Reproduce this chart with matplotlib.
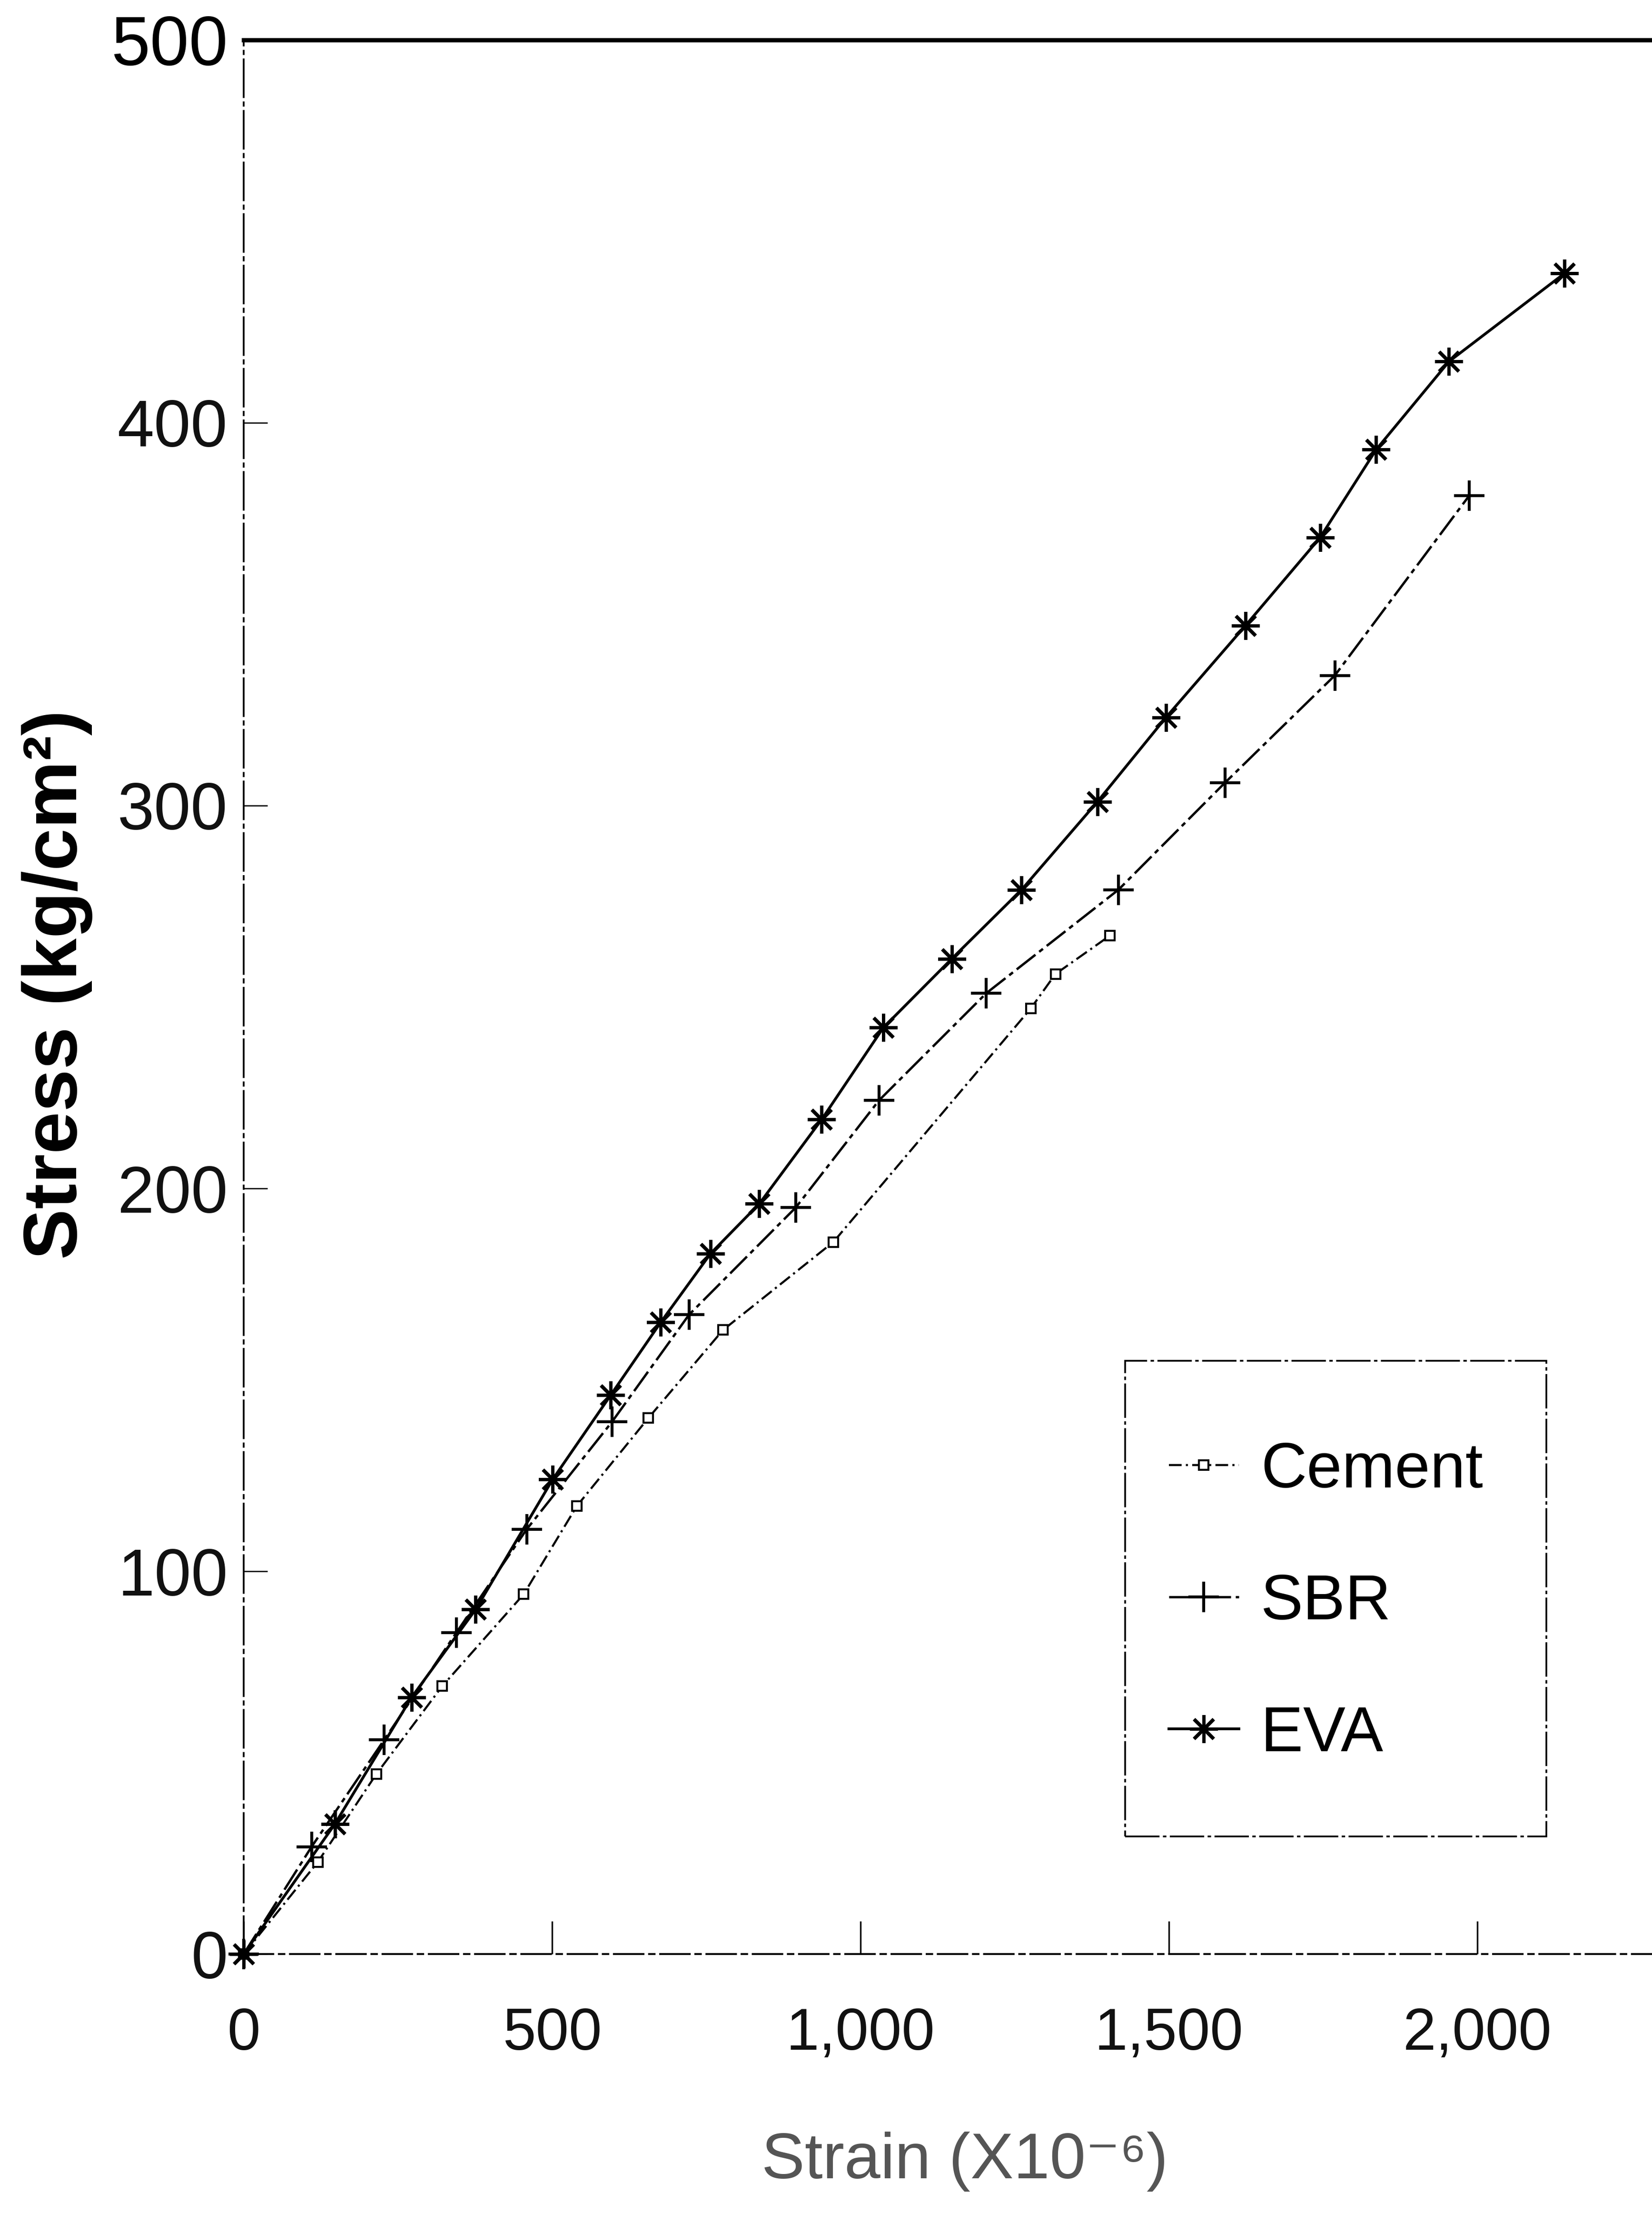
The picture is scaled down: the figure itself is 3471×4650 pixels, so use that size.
"""Stress-strain curves for plain cement vs. SBR and EVA modified mortar."""

import matplotlib

matplotlib.use("Agg")
import matplotlib.pyplot as plt
from matplotlib.patches import Rectangle
from matplotlib.ticker import FuncFormatter

plt.rcParams["font.family"] = ["Liberation Sans", "DejaVu Sans"]

# strain in 1e-6, stress in kg/cm2
strain_cement = [0, 120, 215, 322, 454, 540, 656, 777, 956, 1276, 1316, 1404]
stress_cement = [0, 24, 47, 70, 94, 117, 140, 163, 186, 247, 256, 266]

strain_sbr = [0, 110, 228, 345, 459, 597, 722, 895, 1030, 1204, 1418, 1591, 1769, 1987]
stress_sbr = [0, 28, 56, 84, 111, 139, 167, 195, 223, 251, 278, 306, 334, 381]

strain_eva = [0, 148, 272, 376, 501, 595, 676, 757, 836, 937, 1037, 1148, 1261,
              1384, 1495, 1624, 1745, 1836, 1954, 2141]
stress_eva = [0, 34, 67, 90, 124, 146, 165, 183, 196, 218, 242, 260, 278,
              301, 323, 347, 370, 393, 416, 439]

x_ticks = [0, 500, 1000, 1500, 2000]
y_ticks = [0, 100, 200, 300, 400, 500]


def main() -> None:
    W, H = 3471, 4650
    fig = plt.figure(figsize=(W / 100, H / 100), dpi=100)
    x0, y_top, y_bot = 512, 84, 4104
    ax = fig.add_axes([x0 / W, 1 - y_bot / H, 1 - x0 / W, (y_bot - y_top) / H])

    ax.plot(strain_cement, stress_cement, color="black", lw=3.2,
            ls=(0, (6, 2, 1, 2)), marker="s", ms=14, mfc="white", mew=3,
            label="Cement", clip_on=False, zorder=3)
    ax.plot(strain_sbr, stress_sbr, color="black", lw=3.6,
            ls=(0, (10, 2, 2, 2)), marker="+", ms=46, mew=4.5,
            label="SBR", clip_on=False, zorder=3)
    ax.plot(strain_eva, stress_eva, color="black", lw=4.2, ls="-",
            marker=(8, 2, 0), ms=42, mew=5,
            label="EVA", clip_on=False, zorder=4)

    ax.set_xlim(0, (W - x0) / 1.296)
    ax.set_ylim(0, 500)
    ax.set_xticks(x_ticks)
    ax.set_yticks(y_ticks)
    ax.xaxis.set_major_formatter(FuncFormatter(lambda v, _: f"{int(v):,}"))
    ax.yaxis.set_major_formatter(FuncFormatter(lambda v, _: f"{int(v)}"))

    ax.tick_params(axis="x", direction="in", length=50, width=2.5,
                   pad=80, labelsize=90, colors="#111111")
    ax.tick_params(axis="y", direction="in", length=36, width=2.0,
                   pad=24, labelsize=100, colors="#111111")
    top_label = ax.get_yticklabels()[-1]
    top_label.set_fontsize(106)
    top_label.set_fontweight("medium")
    top_label.set_color("black")

    ax.spines["right"].set_visible(False)
    ax.spines["top"].set_linewidth(6.5)
    ax.spines["left"].set_linewidth(2.6)
    ax.spines["left"].set_linestyle((0, (22, 3, 2, 3)))
    ax.spines["bottom"].set_linewidth(2.8)
    ax.spines["bottom"].set_linestyle((0, (16, 3, 3, 3)))

    fig.text(120 / W, 1 - 2068 / H, "Stress (kg/cm²)", rotation=90,
             ha="center", va="center", fontsize=115, fontweight="bold")
    fig.text(2027 / W, 1 - 4540 / H, "Strain (X10⁻⁶)", ha="center",
             va="center", fontsize=98, color="#555555")

    # legend entries without frame, box drawn separately
    ax.legend(loc="upper left", bbox_to_anchor=(0.657, 0.268),
              fontsize=96, frameon=False, handlelength=1.1,
              handletextpad=0.35, labelspacing=1.14, borderpad=0,
              borderaxespad=0)
    ax.add_patch(Rectangle((0.626, 0.0614), 0.299, 0.2486, transform=ax.transAxes,
                           fill=False, edgecolor="black", lw=2.6,
                           ls=(0, (20, 2, 2, 2)), clip_on=False, zorder=5))

    fig.savefig("out.png", dpi=100, facecolor="white")


if __name__ == "__main__":
    main()
